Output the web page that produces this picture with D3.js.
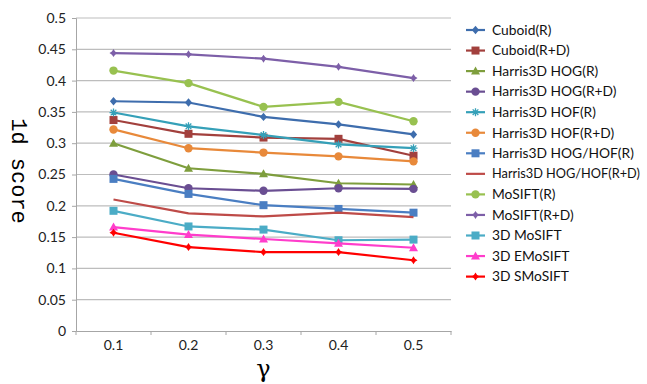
<!DOCTYPE html>
<html>
<head>
<meta charset="utf-8">
<script src="https://cdn.jsdelivr.net/npm/d3@7"></script>
<style>
  html, body { margin: 0; padding: 0; background: #fff; }
  svg { display: block; }
  text { font-family: Lato, "Open Sans", sans-serif; }
</style>
</head>
<body>
<svg id="chart" width="647" height="384"></svg>
<script>
// gamma values along the x axis
const gammas = ["0.1", "0.2", "0.3", "0.4", "0.5"];
const yTicks = [0, 0.05, 0.1, 0.15, 0.2, 0.25, 0.3, 0.35, 0.4, 0.45, 0.5];

// series names, in legend order
const seriesNames = [
  "Cuboid(R)", "Cuboid(R+D)", "Harris3D HOG(R)", "Harris3D HOG(R+D)",
  "Harris3D HOF(R)", "Harris3D HOF(R+D)", "Harris3D HOG/HOF(R)",
  "Harris3D HOG/HOF(R+D)", "MoSIFT(R)", "MoSIFT(R+D)",
  "3D MoSIFT", "3D EMoSIFT", "3D SMoSIFT"
];

// 1d score per series, one value per gamma
const cuboidR        = [0.367, 0.365, 0.342, 0.330, 0.314];
const cuboidRD       = [0.337, 0.315, 0.309, 0.307, 0.280];
const hogR           = [0.300, 0.260, 0.251, 0.236, 0.234];
const hogRD          = [0.250, 0.228, 0.224, 0.228, 0.227];
const hofR           = [0.349, 0.327, 0.313, 0.298, 0.292];
const hofRD          = [0.322, 0.292, 0.285, 0.279, 0.271];
const hoghofR        = [0.243, 0.219, 0.201, 0.195, 0.189];
const hoghofRD       = [0.210, 0.188, 0.183, 0.189, 0.182];
const mosiftR        = [0.416, 0.396, 0.358, 0.366, 0.335];
const mosiftRD       = [0.444, 0.442, 0.435, 0.422, 0.404];
const mosift3D       = [0.192, 0.167, 0.162, 0.145, 0.146];
const emosift3D      = [0.166, 0.154, 0.147, 0.140, 0.133];
const smosift3D      = [0.157, 0.134, 0.126, 0.126, 0.113];

const seriesValues = [cuboidR, cuboidRD, hogR, hogRD, hofR, hofRD, hoghofR,
  hoghofRD, mosiftR, mosiftRD, mosift3D, emosift3D, smosift3D];

// line colour and marker shape per series
const colors = ["#3E6DAD", "#A2403D", "#7E9E3D", "#6A4E92", "#35A0B8", "#E8893A",
  "#4A7EC2", "#BE4B48", "#98C150", "#7D5FA8", "#4BACC6", "#FF3DCB", "#FF0000"];
const markers = ["diamond", "square", "triangle", "circle", "star", "circle",
  "square", "none", "circle", "cross", "square", "triangle", "cross"];

const svg = d3.select("#chart");
const plot = { left: 76, right: 451, top: 18, bottom: 331 };

const x = d3.scaleBand().domain(gammas).range([plot.left, plot.right]);
const y = d3.scaleLinear().domain([0, 0.5]).range([plot.bottom, plot.top]);
const cx = g => x(g) + x.bandwidth() / 2;

// horizontal gridlines
svg.append("g").selectAll("line").data(yTicks.slice(1)).join("line")
  .attr("x1", plot.left).attr("x2", plot.right)
  .attr("y1", d => y(d)).attr("y2", d => y(d))
  .attr("stroke", "#bdbdbd").attr("stroke-width", 1.2);

// y axis
const yAxis = svg.append("g").attr("transform", `translate(${plot.left},0)`)
  .call(d3.axisLeft(y).tickValues(yTicks).tickSize(4).tickPadding(6)
    .tickFormat(d => d3.format("")(+d.toFixed(2))));
yAxis.select(".domain").attr("stroke", "#a6a6a6");
yAxis.selectAll(".tick line").attr("stroke", "#a6a6a6");
yAxis.selectAll("text").attr("font-size", 14).attr("fill", "#222");

// x axis with ticks at category boundaries
const xAxis = svg.append("g").attr("transform", `translate(0,${plot.bottom})`)
  .call(d3.axisBottom(x).tickSize(0).tickPadding(9));
xAxis.select(".domain").attr("stroke", "#a6a6a6");
xAxis.selectAll("text").attr("font-size", 14).attr("fill", "#222");
const bounds = gammas.map(g => x(g)).concat([x(gammas[gammas.length - 1]) + x.bandwidth()]);
xAxis.selectAll(".bound").data(bounds).join("line").attr("class", "bound")
  .attr("x1", d => d).attr("x2", d => d).attr("y1", 0).attr("y2", 4)
  .attr("stroke", "#a6a6a6");

// axis titles
svg.append("text").attr("x", (plot.left + plot.right) / 2).attr("y", 377)
  .attr("text-anchor", "middle").attr("font-size", 24)
  .style("font-family", "'DejaVu Serif', serif").text("γ");
svg.append("text")
  .attr("transform", `translate(12,171) rotate(90)`)
  .attr("text-anchor", "middle").attr("font-size", 22)
  .style("font-family", "'Liberation Mono', 'DejaVu Sans Mono', monospace")
  .text("1d score");

// marker drawing
function drawMarker(sel, shape, color, px, py) {
  const s = 3.6;
  if (shape === "diamond") {
    sel.append("path").attr("d", `M${px},${py - s - 0.6}L${px + s},${py}L${px},${py + s + 0.6}L${px - s},${py}Z`)
      .attr("fill", color);
  } else if (shape === "square") {
    sel.append("rect").attr("x", px - 4).attr("y", py - 4).attr("width", 8).attr("height", 8)
      .attr("fill", color);
  } else if (shape === "triangle") {
    sel.append("path").attr("d", `M${px},${py - 4.5}L${px + 4.5},${py + 3.5}L${px - 4.5},${py + 3.5}Z`)
      .attr("fill", color);
  } else if (shape === "circle") {
    sel.append("circle").attr("cx", px).attr("cy", py).attr("r", 4.2).attr("fill", color);
  } else if (shape === "cross") {
    sel.append("path").attr("d", `M${px},${py - 4}L${px + 1.6},${py - 1.6}L${px + 4},${py}L${px + 1.6},${py + 1.6}L${px},${py + 4}L${px - 1.6},${py + 1.6}L${px - 4},${py}L${px - 1.6},${py - 1.6}Z`)
      .attr("fill", color);
  } else if (shape === "star") {
    const r = 4;
    let d = "";
    for (let k = 0; k < 4; k++) {
      const a = k * Math.PI / 4;
      d += `M${px - r * Math.cos(a)},${py - r * Math.sin(a)}L${px + r * Math.cos(a)},${py + r * Math.sin(a)}`;
    }
    sel.append("path").attr("d", d).attr("stroke", color).attr("stroke-width", 1.3).attr("fill", "none");
  }
}

// series lines and markers
const line = d3.line().x((d, i) => cx(gammas[i])).y(d => y(d));
seriesValues.forEach((vals, si) => {
  const g = svg.append("g");
  g.append("path").datum(vals).attr("d", line)
    .attr("fill", "none").attr("stroke", colors[si]).attr("stroke-width", 2.2)
    .attr("stroke-linejoin", "round");
  vals.forEach((v, i) => drawMarker(g, markers[si], colors[si], cx(gammas[i]), y(v)));
});

// legend
const legend = svg.append("g");
const legendFont = 13.8;
seriesNames.forEach((name, i) => {
  const ly = 30 + i * 20.55;
  const g = legend.append("g");
  g.append("line").attr("x1", 466).attr("x2", 485).attr("y1", ly).attr("y2", ly)
    .attr("stroke", colors[i]).attr("stroke-width", 2.2);
  drawMarker(g, markers[i], colors[i], 475.5, ly);
  g.append("text").attr("x", 492).attr("y", ly).attr("dy", "0.35em")
    .attr("font-size", legendFont).attr("fill", "#111").text(name);
});
// shrink the font of any entry that would run past the right edge
legend.selectAll("text").each(function () {
  const w = this.getComputedTextLength();
  const room = 640 - 492;
  if (w > room) d3.select(this).attr("font-size", legendFont * room / w);
});
</script>
</body>
</html>
